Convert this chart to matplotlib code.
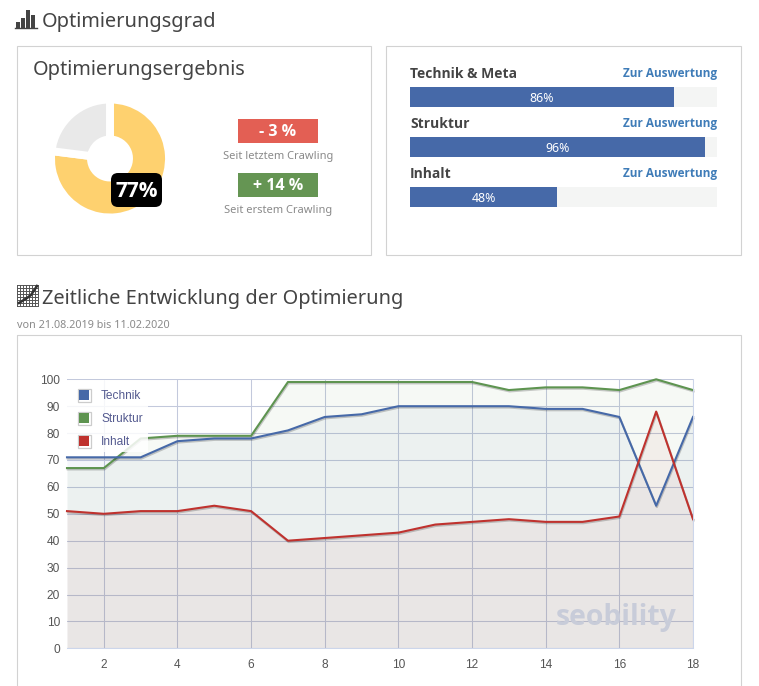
"""Optimierungsgrad dashboard: donut, progress bars and history chart."""
import matplotlib
matplotlib.use('Agg')
import matplotlib.pyplot as plt
import matplotlib.patheffects as pe
from matplotlib.patches import Rectangle, FancyBboxPatch

plt.rcParams['font.family'] = ['Noto Sans', 'DejaVu Sans']

W, H = 759, 686
BOLD = ['Open Sans', 'DejaVu Sans']

# Data
score_values = [77, 23]
score_label = '77%'
delta_labels = ['- 3 %', '+ 14 %']
delta_captions = ['Seit letztem Crawling', 'Seit erstem Crawling']

bar_names = ['Technik & Meta', 'Struktur', 'Inhalt']
bar_values = [86, 96, 48]

x_values = list(range(1, 19))
technik = [71, 71, 71, 77, 78, 78, 81, 86, 87, 90, 90, 90, 90, 89, 89, 86, 53, 86]
struktur = [67, 67, 78, 79, 79, 79, 99, 99, 99, 99, 99, 99, 96, 97, 97, 96, 100, 96]
inhalt = [51, 50, 51, 51, 53, 51, 40, 41, 42, 43, 46, 47, 48, 47, 47, 49, 88, 48]
series_names = ['Technik', 'Struktur', 'Inhalt']
x_ticks = [2, 4, 6, 8, 10, 12, 14, 16, 18]
y_ticks = [0, 10, 20, 30, 40, 50, 60, 70, 80, 90, 100]

BLUE = '#4669a8'
GREEN = '#5e9450'
RED = '#bf322e'
TEXT = '#444444'
MUTED = '#8a8a8a'
GRID = '#c3c9dc'


def px_axes(x0, y0, x1, y1, **kwargs):
    """Axes placed by pixel box, y measured from the top of the image."""
    return fig.add_axes([x0 / W, 1 - y1 / H, (x1 - x0) / W, (y1 - y0) / H], **kwargs)


fig = plt.figure(figsize=(W / 100, H / 100), dpi=100, facecolor='white')

# Donut, the white edge makes the gaps between the slices
r_px = 59
cx, cy = 110, 158.5
ax = px_axes(cx - 1.25 * r_px, cy - 1.25 * r_px, cx + 1.25 * r_px, cy + 1.25 * r_px)
ax.pie(score_values, colors=['#fed16f', '#e9e9e9'], startangle=90, counterclock=False,
       wedgeprops=dict(width=40 / r_px, edgecolor='white', linewidth=5.7))

# Progress bars
ax = px_axes(410, 87, 717, 207)
bar_rows = [97, 147, 197]
ax.barh(bar_rows, [100] * 3, height=20, color='#f4f5f4')
ax.barh(bar_rows, bar_values, height=20, color='#4669a8')
for row, value in zip(bar_rows, bar_values):
    ax.text(value / 2, row + 1, f'{value}%', color='white', fontsize=8.9, ha='center', va='center')
ax.set_xlim(0, 100)
ax.set_ylim(207, 87)
ax.axis('off')

# History chart
ax = px_axes(67, 379.3, 693, 648.3)
series = [(struktur, GREEN), (technik, BLUE), (inhalt, RED)]
ax.set_axisbelow(True)
ax.grid(True, color=GRID, linewidth=0.75)
for values, color in series:
    ax.fill_between(x_values, values, 0, color=color, alpha=0.055, linewidth=0)
shadow = [pe.SimpleLineShadow(offset=(0.5, -1), alpha=0.2), pe.Normal()]
for values, color in series:
    ax.plot(x_values, values, color=color, linewidth=1.5, clip_on=False, path_effects=shadow)
ax.set_xlim(1, 18)
ax.set_ylim(0, 100)
ax.set_xticks(x_ticks)
ax.set_yticks(y_ticks)
ax.tick_params(length=0, labelcolor='#555555', labelsize=8.6, pad=5)
ax.tick_params(axis='x', pad=8)
for label in ax.get_xticklabels() + ax.get_yticklabels():
    label.set_family('Liberation Sans')
for side, spine in ax.spines.items():
    spine.set_visible(side in ('bottom', 'right'))
    spine.set_color('#ccd6eb')
    spine.set_linewidth(0.75)

# Everything else sits on one transparent layer in pixel coordinates
ov = px_axes(0, 0, W, H, zorder=5)
ov.patch.set_alpha(0)
ov.set_xlim(0, W)
ov.set_ylim(H, 0)
ov.axis('off')

# Panels
for x0, y0, x1, y1 in [(17, 46, 371, 255), (386, 46, 740.5, 255), (17, 334.5, 740.5, 700)]:
    ov.add_patch(Rectangle((x0, y0), x1 - x0, y1 - y0, fill=False, edgecolor='#d2d2d2', linewidth=0.8))

# Headings
ov.text(42, 22.5, 'Optimierungsgrad', fontsize=14.4, color=TEXT, va='center')
ov.text(33, 70, 'Optimierungsergebnis', fontsize=14.4, color=TEXT, va='center')
ov.text(42, 299, 'Zeitliche Entwicklung der Optimierung', fontsize=14.4, color=TEXT, va='center')
ov.text(17, 326, 'von 21.08.2019 bis 11.02.2020', fontsize=7.8, color=MUTED, va='center')

# Heading icons
for x, top in [(16, 22), (21, 18), (26, 10), (31, 15)]:
    ov.add_patch(Rectangle((x, top), 4, 28 - top, color='#444444', linewidth=0))
ov.plot([15, 37], [28, 28], color='#444444', linewidth=1)
for offset in range(0, 22, 3):
    ov.plot([17 + offset, 17 + offset], [285, 306], color='#555555', linewidth=0.7)
    ov.plot([17, 37], [285 + offset, 285 + offset], color='#555555', linewidth=0.7)
ov.plot([19, 27, 31, 37], [303, 298, 295, 286], color='#333333', linewidth=1.8)

# Score pill and change boxes
ov.add_patch(FancyBboxPatch((111, 173), 51, 34, boxstyle='round,pad=0,rounding_size=7',
                            facecolor='black', edgecolor='none'))
ov.text(136.5, 191.5, score_label, color='white', fontsize=15, fontweight='bold',
        family=BOLD, ha='center', va='center')
for top, color, label, caption in zip([119, 173], ['#e35f54', '#659553'], delta_labels, delta_captions):
    ov.add_patch(Rectangle((238, top), 80, 24, color=color, linewidth=0))
    ov.text(278, top + 13, label, color='white', fontsize=11.5, fontweight='bold',
            family=BOLD, ha='center', va='center')
    ov.text(278, top + 37, caption, color=MUTED, fontsize=8, ha='center', va='center')

# Bar headings
for top, name in zip([73, 123, 173], bar_names):
    ov.text(410, top + 1, name, color=TEXT, fontsize=10, fontweight='bold', family=BOLD, va='center')
    ov.text(717, top + 0.5, 'Zur Auswertung', color='#3f7cb8', fontsize=8.5, fontweight='bold',
            family=BOLD, ha='right', va='center')

# Watermark
ov.text(616.5, 617, 'seobility', color='#c8ccd9', fontsize=20.4, fontweight='bold',
        family=BOLD, ha='center', va='center')

# Legend
ov.add_patch(Rectangle((67, 380), 81, 72, color='white', alpha=0.85, linewidth=0))
for y, color, name in zip([395, 418, 441], [BLUE, GREEN, RED], series_names):
    ov.add_patch(Rectangle((77.5, y - 6.5), 13, 13, facecolor='white', edgecolor='#cccccc', linewidth=0.9))
    ov.add_patch(Rectangle((79, y - 5), 10, 10, color=color, linewidth=0))
    ov.text(101, y + 1, name, color='#555b90', fontsize=8.6, family='Liberation Sans', va='center')

fig.savefig('out.png', dpi=100)
